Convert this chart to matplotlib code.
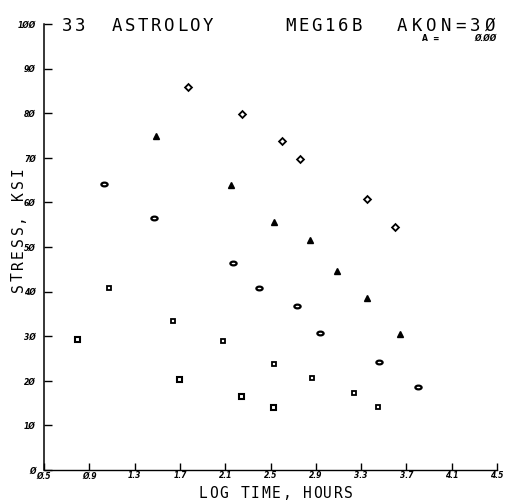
import matplotlib
matplotlib.use("Agg")
import matplotlib.pyplot as plt
from matplotlib.path import Path
from matplotlib.transforms import Affine2D

# (log time in hours, stress in ksi)
diamond_x = [1.77, 2.25, 2.60, 2.76, 3.35, 3.60]
diamond_y = [85.9, 79.9, 73.7, 69.7, 60.7, 54.5]

tri_x = [1.49, 2.15, 2.53, 2.85, 3.09, 3.35, 3.64]
tri_y = [74.8, 64.0, 55.6, 51.6, 44.6, 38.5, 30.4]

oval_x = [1.03, 1.47, 2.17, 2.40, 2.73, 2.94, 3.46, 3.80]
oval_y = [64.1, 56.4, 46.4, 40.8, 36.7, 30.7, 24.2, 18.7]

square_x = [1.07, 1.64, 2.08, 2.53, 2.87, 3.24, 3.45]
square_y = [40.8, 33.4, 28.9, 23.8, 20.7, 17.3, 14.1]

low_x = [0.79, 1.69, 2.24, 2.52]
low_y = [29.4, 20.3, 16.7, 14.1]

xticks = [0.5, 0.9, 1.3, 1.7, 2.1, 2.5, 2.9, 3.3, 3.7, 4.1, 4.5]
xlabels = ["Ø.5", "Ø.9", "1.3", "1.7", "2.1", "2.5", "2.9", "3.3", "3.7", "4.1", "4.5"]
yticks = [0, 10, 20, 30, 40, 50, 60, 70, 80, 90, 100]
ylabels = ["Ø", "1Ø", "2Ø", "3Ø", "4Ø", "5Ø", "6Ø", "7Ø", "8Ø", "9Ø", "1ØØ"]

W, H = 506, 501
fig = plt.figure(figsize=(W / 100, H / 100), dpi=100)
ax = fig.add_axes([44 / W, 31 / H, (497 - 44) / W, (470 - 24) / H])

# wide oval marker like the plotter's "0"
oval = Path(Affine2D().scale(1.5, 0.9).transform(Path.unit_circle().vertices), Path.unit_circle().codes)

ax.plot(diamond_x, diamond_y, ls="none", marker="D", ms=3.5, mfc="white", mec="black", mew=1.3)
ax.plot(tri_x, tri_y, ls="none", marker="^", ms=3.8, color="black")
ax.plot(oval_x, oval_y, ls="none", marker=oval, ms=4.5, mfc="white", mec="black", mew=1.6)
ax.plot(square_x, square_y, ls="none", marker="s", ms=3.2, mfc="white", mec="black", mew=1.3)
ax.plot(low_x, low_y, ls="none", marker="s", ms=3.6, mfc="white", mec="black", mew=1.5)

ax.set_xlim(0.5, 4.5)
ax.set_ylim(0, 100)
ax.spines["top"].set_visible(False)
ax.spines["right"].set_visible(False)
ax.spines["left"].set_linewidth(1.1)
ax.spines["bottom"].set_linewidth(1.0)

ax.set_xticks(xticks)
ax.set_xticklabels(xlabels, fontsize=5.5, fontweight="bold", style="italic")
ax.set_yticks(yticks)
ax.set_yticklabels(ylabels, fontsize=5.5, fontweight="bold", style="italic")
ax.tick_params(axis="x", direction="in", length=5, width=1, pad=1)
ax.tick_params(axis="y", direction="in", length=6, width=1, pad=6)


def spaced(x, y, s, pitch, size, rot=0):
    # plotter lettering: fixed pitch per character, positions in pixels from top-left
    for i, ch in enumerate(s):
        if rot:
            fig.text(x / W, 1 - (y - i * pitch) / H, ch, fontsize=size, rotation=90,
                     ha="center", va="center", family="DejaVu Sans Mono")
        else:
            fig.text((x + i * pitch) / W, 1 - y / H, ch, fontsize=size, ha="center",
                     va="baseline", family="DejaVu Sans Mono")


# header
spaced(67, 31, "33", 13, 12.5)
spaced(117, 31, "ASTROLOY", 13, 12.5)
spaced(290, 31, "MEG16B", 13.4, 12.5)
spaced(402, 31, "AKON=3Ø", 14.7, 12.5)
fig.text(422 / W, 1 - 41 / H, "A  =", fontsize=5.5, fontweight="bold")
fig.text(497 / W, 1 - 41 / H, "Ø.ØØ", fontsize=5.5, fontweight="bold", style="italic", ha="right")

# axis titles
spaced(203, 498, "LOG TIME, HOURS", 10.4, 10.5)
spaced(18, 288, "STRESS, KSI", 11.6, 10.5, rot=90)

fig.savefig("out.png", dpi=100)
